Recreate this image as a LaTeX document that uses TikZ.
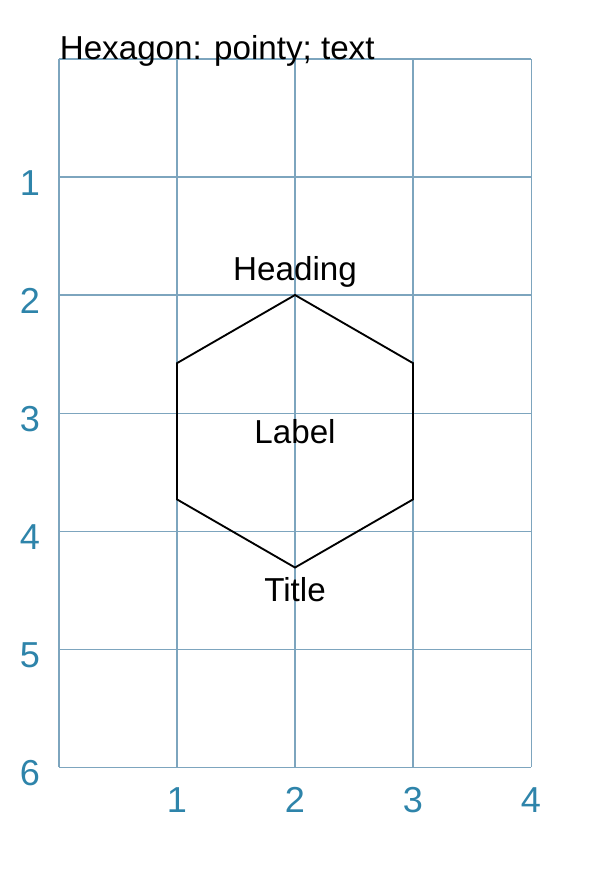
\documentclass[tikz,border=0pt]{standalone}
\usepackage{fontspec}
\setmainfont{Liberation Sans}
\definecolor{axiscol}{RGB}{46,132,170}
\definecolor{gridcol}{RGB}{125,165,190}
\begin{document}
\begin{tikzpicture}[x=1cm,y=-1cm]
	\tikzset{gridline/.style = {draw=gridcol,line width=.25pt}}
	\tikzset{axislabel/.style = {text=axiscol,font=\fontsize{8.7}{10}\selectfont}}
	\tikzset{hexline/.style = {draw=black,line width=.45pt,line join=miter}}
	\tikzset{txt/.style = {font=\fontsize{8}{9.6}\selectfont}}
	\useasboundingbox (-0.5,-0.5) rectangle (4.695,6.915);
	\foreach \x in {0,...,4} \draw[gridline] (\x,0) -- (\x,6);
	\foreach \y in {0,...,6} \draw[gridline] (0,\y) -- (4,\y);
	\foreach \y in {1,...,6} \node[axislabel] (ly\y) at (-0.246,\y+0.05) {\y};
	\foreach \x in {1,...,4} \node[axislabel] (lx\x) at (\x,6.28) {\x};
	\node[txt,anchor=base west,inner sep=0pt] (caption) at (0,0) {Hexagon: pointy; text};
	\coordinate (top) at (2,2);
	\coordinate (bot) at (2,4.3094);
	\coordinate (c) at (2,3.1547);
	\draw[hexline] (top) -- (3,2.5774) -- (3,3.7321) -- (bot) -- (1,3.7321) -- (1,2.5774) -- cycle;
	\node[txt,above,yshift=-1.7pt] (heading) at (top) {Heading};
	\node[txt] (label) at (c) {Label};
	\node[txt,below,yshift=1.1pt] (title) at (bot) {Title};
\end{tikzpicture}
\end{document}
